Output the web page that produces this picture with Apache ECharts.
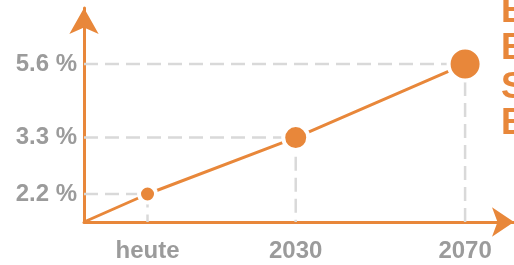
<!DOCTYPE html>
<html>
<head>
<meta charset="utf-8">
<script src="https://cdn.jsdelivr.net/npm/echarts@6/dist/echarts.min.js"></script>
<style>
html,body{margin:0;padding:0;background:#fff;}
#c{width:514px;height:265px;}
</style>
</head>
<body>
<div id="c"></div>
<script>
// Data
const categories = ['heute', '2030', '2070'];
const categorySlots = [3, 10, 18];        // schematic position of each category on the time axis
const shares = [2.2, 3.3, 5.6];            // share in %
const yTickLabels = ['2.2 %', '3.3 %', '5.6 %'];
const sideLetters = ['B', 'B', 'S', 'B'];  // cropped text at the right edge

// Axis extents (schematic)
const X_MIN = 0, X_MAX = 20.31;
const Y_MIN = 1.799, Y_MAX = 8.375;

const ORANGE = '#E8873A';
const GREY_TXT = '#9b9b9b';
const DASH = '#d9d9d9';
const dotSizes = [17, 25, 33];
const LABEL_FONT = '"Liberation Sans", Arial, sans-serif';

const chart = echarts.init(document.getElementById('c'), null, {renderer: 'canvas'});

const series = [];
// drop lines
shares.forEach((v, i) => {
  series.push({
    type: 'line',
    silent: true,
    symbol: 'none',
    z: 1,
    lineStyle: {color: DASH, width: 2.5, type: [14, 7]},
    data: [[X_MIN, v], [categorySlots[i], v], [categorySlots[i], Y_MIN]]
  });
});
// main line
series.push({
  type: 'line',
  z: 3,
  symbol: 'none',
  lineStyle: {color: ORANGE, width: 3},
  data: [[X_MIN, Y_MIN]].concat(shares.map((v, i) => [categorySlots[i], v]))
});
// dots
series.push({
  type: 'scatter',
  z: 4,
  symbolSize: (val, p) => dotSizes[p.dataIndex],
  itemStyle: {color: ORANGE, borderColor: '#fff', borderWidth: 4, opacity: 1},
  data: shares.map((v, i) => [categorySlots[i], v])
});

const option = {
  animation: false,
  backgroundColor: '#fff',
  grid: {left: 84, right: 0, top: 8, bottom: 43, containLabel: false},
  xAxis: {
    type: 'value',
    min: X_MIN, max: X_MAX,
    splitLine: {show: false},
    axisTick: {show: false},
    axisLine: {show: true, onZero: false, lineStyle: {color: ORANGE, width: 3},
      symbol: ['none', 'arrow'], symbolSize: [22, 22]},
    axisLabel: {
      customValues: categorySlots,
      formatter: (v) => { const i = categorySlots.indexOf(v); return i >= 0 ? categories[i] : ''; },
      color: GREY_TXT, fontFamily: LABEL_FONT, fontWeight: 'bold', fontSize: 24, margin: 17
    }
  },
  yAxis: {
    type: 'log',
    min: Y_MIN, max: Y_MAX,
    splitLine: {show: false},
    axisTick: {show: false},
    axisLine: {show: true, onZero: false, lineStyle: {color: ORANGE, width: 3},
      symbol: ['none', 'arrow'], symbolSize: [22, 26]},
    axisLabel: {
      customValues: shares,
      formatter: (v) => { const i = shares.findIndex(s => Math.abs(s - v) < 1e-6); return i >= 0 ? yTickLabels[i] : ''; },
      color: GREY_TXT, fontFamily: LABEL_FONT, fontWeight: 'bold', fontSize: 24, margin: 7
    }
  },
  graphic: sideLetters.map((t, i) => ({
    type: 'text',
    left: 501,
    top: [-6, 31, 70, 106][i],
    style: {text: t, fill: ORANGE, font: 'bold 36px "Liberation Sans"'}
  })),
  series: series
};
chart.setOption(option);
</script>
</body>
</html>
